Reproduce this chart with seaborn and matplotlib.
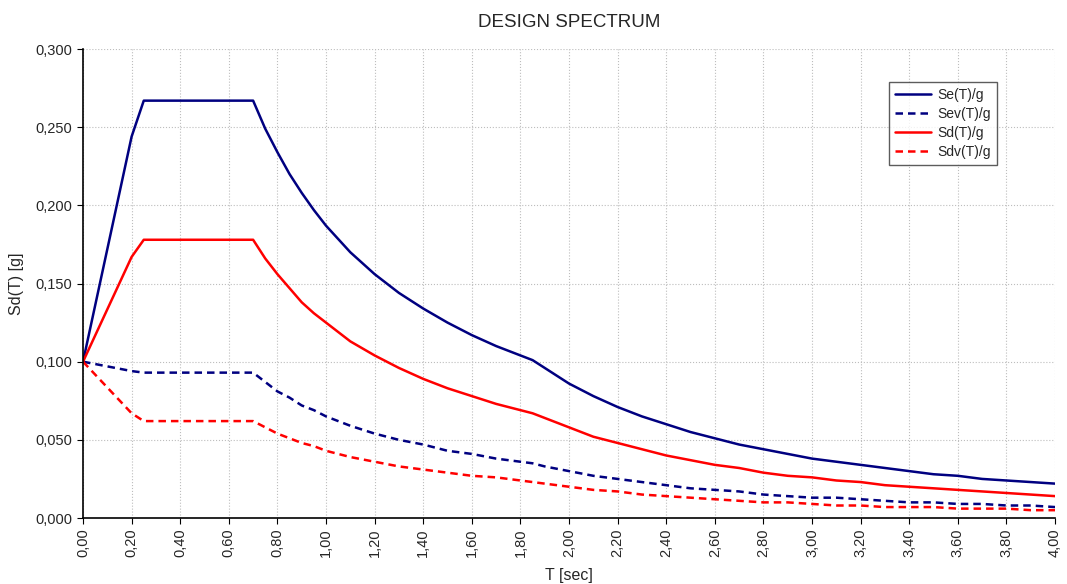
import matplotlib
matplotlib.use("Agg")
import matplotlib.pyplot as plt
import matplotlib.ticker as mticker
import seaborn as sns
import pandas as pd

T = [0.00, 0.20, 0.25, 0.70, 0.75, 0.80, 0.85, 0.90, 0.95, 1.00,
     1.10, 1.20, 1.30, 1.40, 1.50, 1.60, 1.70, 1.80, 1.85, 1.90,
     2.00, 2.10, 2.20, 2.30, 2.40, 2.50, 2.60, 2.70, 2.80, 2.90,
     3.00, 3.10, 3.20, 3.30, 3.40, 3.50, 3.60, 3.70, 3.80, 3.90, 4.00]

se = [0.100, 0.244, 0.267, 0.267, 0.249, 0.234, 0.220, 0.208, 0.197, 0.187,
      0.170, 0.156, 0.144, 0.134, 0.125, 0.117, 0.110, 0.104, 0.101, 0.096,
      0.086, 0.078, 0.071, 0.065, 0.060, 0.055, 0.051, 0.047, 0.044, 0.041,
      0.038, 0.036, 0.034, 0.032, 0.030, 0.028, 0.027, 0.025, 0.024, 0.023, 0.022]

sev = [0.100, 0.094, 0.093, 0.093, 0.087, 0.081, 0.077, 0.072, 0.069, 0.065,
       0.059, 0.054, 0.050, 0.047, 0.043, 0.041, 0.038, 0.036, 0.035, 0.033,
       0.030, 0.027, 0.025, 0.023, 0.021, 0.019, 0.018, 0.017, 0.015, 0.014,
       0.013, 0.013, 0.012, 0.011, 0.010, 0.010, 0.009, 0.009, 0.008, 0.008, 0.007]

sd = [0.100, 0.167, 0.178, 0.178, 0.166, 0.156, 0.147, 0.138, 0.131, 0.125,
      0.113, 0.104, 0.096, 0.089, 0.083, 0.078, 0.073, 0.069, 0.067, 0.064,
      0.058, 0.052, 0.048, 0.044, 0.040, 0.037, 0.034, 0.032, 0.029, 0.027,
      0.026, 0.024, 0.023, 0.021, 0.020, 0.019, 0.018, 0.017, 0.016, 0.015, 0.014]

sdv = [0.100, 0.067, 0.062, 0.062, 0.058, 0.054, 0.051, 0.048, 0.046, 0.043,
       0.039, 0.036, 0.033, 0.031, 0.029, 0.027, 0.026, 0.024, 0.023, 0.022,
       0.020, 0.018, 0.017, 0.015, 0.014, 0.013, 0.012, 0.011, 0.010, 0.010,
       0.009, 0.008, 0.008, 0.007, 0.007, 0.007, 0.006, 0.006, 0.006, 0.005, 0.005]

series_names = ["Se(T)/g", "Sev(T)/g", "Sd(T)/g", "Sdv(T)/g"]
series_vals = [se, sev, sd, sdv]
colors = ["#000080", "#000080", "#FF0000", "#FF0000"]
styles = ["-", (0, (3, 2)), "-", (0, (3, 2))]

sns.set_style("white")
plt.rcParams["font.family"] = ["Liberation Sans Narrow", "Liberation Sans", "DejaVu Sans"]

fig = plt.figure(figsize=(10.67, 5.84), dpi=100)
ax = fig.add_axes([0.0778, 0.113, 0.911, 0.803])

for name, vals, c, ls in zip(series_names, series_vals, colors, styles):
    df = pd.DataFrame({"T": T, "v": vals})
    sns.lineplot(data=df, x="T", y="v", ax=ax, color=c, linewidth=1.8,
                 linestyle=ls, label=name)

ax.set_xlim(0, 4)
ax.set_ylim(0, 0.3)
ax.xaxis.set_major_locator(mticker.MultipleLocator(0.2))
ax.yaxis.set_major_locator(mticker.MultipleLocator(0.05))
ax.xaxis.set_major_formatter(mticker.FuncFormatter(lambda v, p: f"{v:.2f}".replace(".", ",")))
ax.yaxis.set_major_formatter(mticker.FuncFormatter(lambda v, p: f"{v:.3f}".replace(".", ",")))
ax.tick_params(axis="x", rotation=90, labelsize=10.5, length=4, direction="out", bottom=True, color="black")
ax.tick_params(axis="y", labelsize=10.5, length=4, direction="out", left=True, color="black")
ax.grid(True, color="#bdbdbd", linestyle=":", linewidth=0.8)
for s in ["top", "right"]:
    ax.spines[s].set_visible(False)
for s in ["left", "bottom"]:
    ax.spines[s].set_color("black")
    ax.spines[s].set_linewidth(1.2)

ax.set_xlabel("T [sec]", fontsize=11.5, labelpad=8)
ax.set_ylabel("Sd(T) [g]", fontsize=11.5, labelpad=8)
ax.set_title("DESIGN SPECTRUM", fontsize=13.5, pad=16)

leg = ax.legend(loc="upper left", bbox_to_anchor=(0.822, 0.945), frameon=True,
                fancybox=False, edgecolor="#333333", fontsize=10,
                handlelength=2.6, handletextpad=0.4, borderpad=0.45, labelspacing=0.35)
leg.get_frame().set_linewidth(1.0)

fig.savefig("out.png", dpi=100)
